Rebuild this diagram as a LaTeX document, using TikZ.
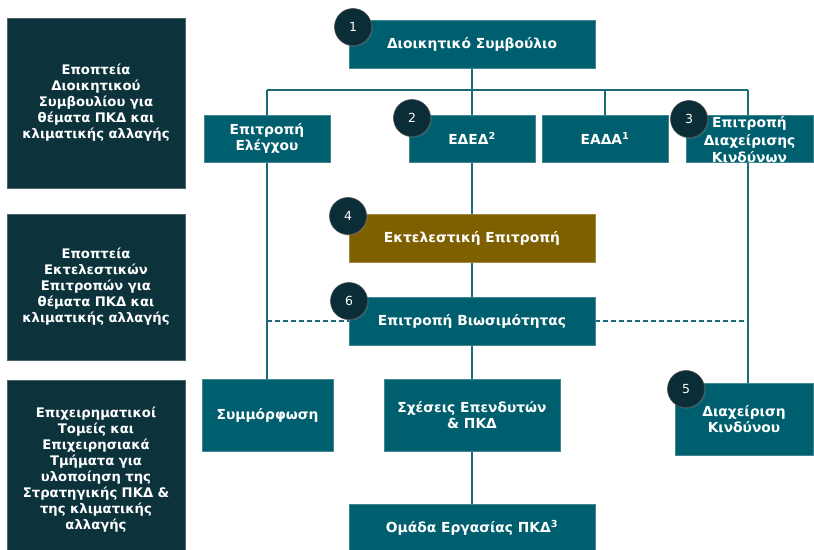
\documentclass[tikz,border=0pt]{standalone}
\usepackage{fontspec}
\setmainfont{DejaVu Sans}
\usetikzlibrary{backgrounds,shadows}
\definecolor{boxteal}{RGB}{0,95,110}
\definecolor{boxdark}{RGB}{12,50,60}
\definecolor{boxgold}{RGB}{127,96,0}
\definecolor{circdark}{RGB}{10,45,55}
\definecolor{linkteal}{RGB}{30,105,120}

\begin{document}
\begin{tikzpicture}[x=1pt,y=-1pt]
        % Common styles
        \tikzstyle{box}=[fill=boxteal, draw=boxteal!75!white, line width=0.4pt, text=white, font=\bfseries\fontsize{13.8}{16.5}\selectfont, align=center, inner sep=0pt]
        \tikzstyle{sidebox}=[box, fill=boxdark, draw=boxdark!75!white, minimum width=178, text width=174, font=\bfseries\fontsize{13.2}{16}\selectfont]
        \tikzstyle{num}=[circle, fill=circdark, draw=gray!60!black, line width=0.6pt, minimum size=37, inner sep=0pt, text=white, font=\fontsize{12.5}{12.5}\selectfont, drop shadow={shadow xshift=1.2pt, shadow yshift=-1.2pt, opacity=0.35}]
        \tikzstyle{link}=[linkteal, line width=1.4pt]

        \useasboundingbox (0,0) rectangle (814,549);

        % --- Left column: oversight levels ---
        \node[sidebox, minimum height=170] (supboard) at (96,103) {Εποπτεία\\Διοικητικού\\Συμβουλίου για\\θέματα ΠΚΔ και\\κλιματικής αλλαγής};
        \node[sidebox, minimum height=146] (supexec) at (96,287) {Εποπτεία\\Εκτελεστικών\\Επιτροπών για\\θέματα ΠΚΔ και\\κλιματικής αλλαγής};
        \node[sidebox, minimum height=180] (supunits) at (96,470) {Επιχειρηματικοί\\Τομείς και\\Επιχειρησιακά\\Τμήματα για\\υλοποίηση της\\Στρατηγικής ΠΚΔ \&\\της κλιματικής\\αλλαγής};

        % --- Board and its committees ---
        \node[box, minimum width=246, minimum height=48] (board) at (472,44) {Διοικητικό Συμβούλιο};
        \node[box, minimum width=126, minimum height=47] (audit) at (267,138.5) {Επιτροπή\\Ελέγχου};
        \node[box, minimum width=126, minimum height=47] (edd) at (472,138.5) {ΕΔΕΔ\textsuperscript{2}};
        \node[box, minimum width=126, minimum height=47] (eada) at (605,138.5) {ΕΑΔΑ\textsuperscript{1}};
        \node[box, minimum width=127, minimum height=47] (riskcom) at (749.5,138.5) {\smash{\raisebox{-5pt}{\parbox[c]{127pt}{\centering\fontsize{13.8}{17.5}\selectfont Επιτροπή\\Διαχείρισης\\Κινδύνων}}}};

        % --- Executive level ---
        \node[box, fill=boxgold, draw=boxgold!75!white, minimum width=246, minimum height=48] (exec) at (472,238) {Εκτελεστική Επιτροπή};
        \node[box, minimum width=246, minimum height=48] (sust) at (472,321) {Επιτροπή Βιωσιμότητας};

        % --- Units ---
        \node[box, minimum width=131, minimum height=72] (compl) at (267.5,415) {Συμμόρφωση};
        \node[box, minimum width=176, minimum height=72] (ir) at (472,415) {Σχέσεις Επενδυτών\\\& ΠΚΔ};
        \node[box, minimum width=138, minimum height=72] (riskmgmt) at (744,419) {Διαχείριση\\Κινδύνου};
        \node[box, minimum width=246, minimum height=48] (team) at (472,528) {Ομάδα Εργασίας ΠΚΔ\textsuperscript{3}};

        % Number badges
        \node[num] (n1) at (353,27) {1};
        \node[num] (n2) at (412,118) {2};
        \node[num] (n3) at (689,119) {3};
        \node[num] (n4) at (348,216) {4};
        \node[num] (n5) at (686,389) {5};
        \node[num] (n6) at (349,301) {6};

        % Connectors behind the boxes
        \begin{scope}[on background layer]
            \coordinate (busL) at (267,90);
            \coordinate (busR) at (748,90);
            \draw[link] (busL) -- (busR);
            \foreach \a/\b in {board/edd, edd/exec, exec/sust, sust/ir, ir/team}
                \draw[link] (\a.south) -- (\b.north);
            \draw[link] (busL) -- (busL |- compl.north);
            \draw[link] (busR) -- (busR |- riskmgmt.north);
            \draw[link] (eada.north) -- (eada.north |- busR);
            \draw[link, line width=1.2pt, dash pattern=on 5pt off 3pt] (busL |- sust.center) -- (sust.west);
            \draw[link, line width=1.2pt, dash pattern=on 5pt off 3pt] (sust.east) -- (busR |- sust.center);
        \end{scope}

\end{tikzpicture}
\end{document}
